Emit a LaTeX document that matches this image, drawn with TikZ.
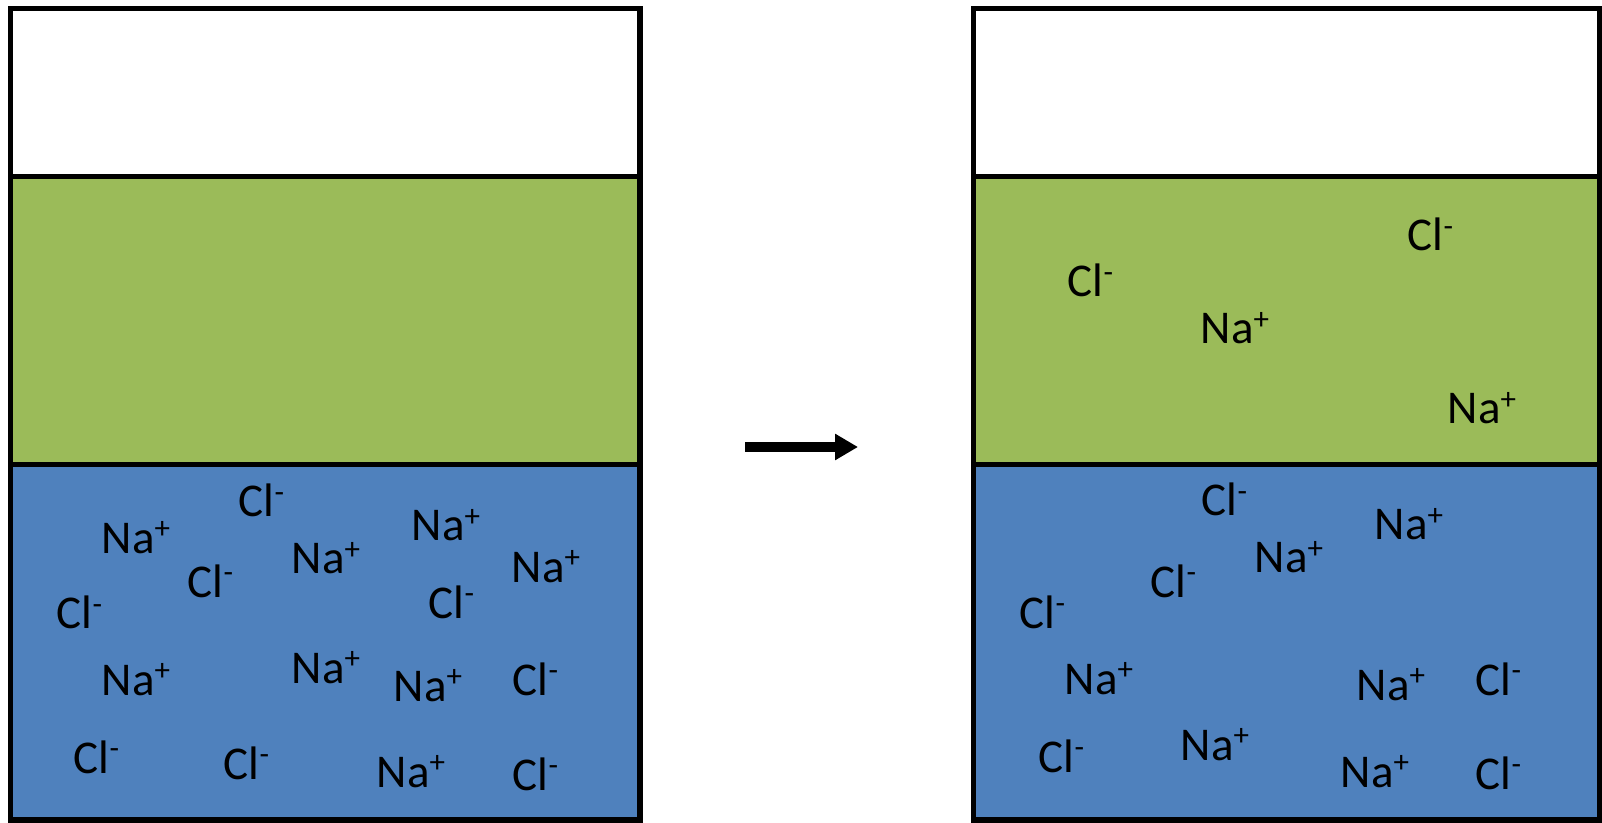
\documentclass[tikz,border=0pt]{standalone}
\usepackage{fontspec}
\setmainfont{Carlito}
\usetikzlibrary{arrows.meta}
\definecolor{organic}{HTML}{9BBB59}
\definecolor{aqueous}{HTML}{4F81BD}
\newcommand{\ionlbl}[2]{#1\raisebox{0.3em}{\fontsize{15.5pt}{15.5pt}\selectfont #2}}
\begin{document}
\begin{tikzpicture}[x=0.5pt, y=-0.5pt, line width=2.7pt,
    ion/.style={anchor=base west, inner sep=0pt, font=\fontsize{23.5pt}{28pt}\selectfont},
    na/.style={ion, xshift=-2pt},
    cl/.style={ion, xshift=-1pt}]
\useasboundingbox (0,0) rectangle (1602,823);
% left beaker
\filldraw[fill=white] (10.5,8.5) rectangle (640,176.5);
\filldraw[fill=organic] (10.5,176.5) rectangle (640,464.5);
\filldraw[fill=aqueous] (10.5,464.5) rectangle (640,820);
% right beaker
\filldraw[fill=white] (973.5,8.5) rectangle (1599.5,176.5);
\filldraw[fill=organic] (973.5,176.5) rectangle (1599.5,464.5);
\filldraw[fill=aqueous] (973.5,464.5) rectangle (1599.5,820);
% arrow
\coordinate (arrstart) at (745,447);
\coordinate (arrend) at (858,447);
\draw[line width=5pt, -{Triangle[length=11.5pt, width=12.5pt]}] (arrstart) -- (arrend);
% ions before
\node[na] (naL1) at (103,553) {\ionlbl{Na}{+}};
\node[na] (naL2) at (413,541) {\ionlbl{Na}{+}};
\node[na] (naL3) at (513,582) {\ionlbl{Na}{+}};
\node[na] (naL4) at (293,574) {\ionlbl{Na}{+}};
\node[na] (naL5) at (103,695) {\ionlbl{Na}{+}};
\node[na] (naL6) at (293,683) {\ionlbl{Na}{+}};
\node[na] (naL7) at (395,701) {\ionlbl{Na}{+}};
\node[na] (naL8) at (378,787) {\ionlbl{Na}{+}};
\node[cl] (clL1) at (238,517) {\ionlbl{Cl}{-}};
\node[cl] (clL2) at (187,597) {\ionlbl{Cl}{-}};
\node[cl] (clL3) at (56,629) {\ionlbl{Cl}{-}};
\node[cl] (clL4) at (428,618) {\ionlbl{Cl}{-}};
\node[cl] (clL5) at (512,695) {\ionlbl{Cl}{-}};
\node[cl] (clL6) at (73,773) {\ionlbl{Cl}{-}};
\node[cl] (clL7) at (223,779) {\ionlbl{Cl}{-}};
\node[cl] (clL8) at (512,790) {\ionlbl{Cl}{-}};
% ions after
\node[cl] (clR1) at (1067,297) {\ionlbl{Cl}{-}};
\node[cl] (clR2) at (1407,251) {\ionlbl{Cl}{-}};
\node[na] (naR1) at (1202,344) {\ionlbl{Na}{+}};
\node[na] (naR2) at (1449,424) {\ionlbl{Na}{+}};
\node[cl] (clR3) at (1201,516) {\ionlbl{Cl}{-}};
\node[cl] (clR4) at (1150,597) {\ionlbl{Cl}{-}};
\node[cl] (clR5) at (1019,628) {\ionlbl{Cl}{-}};
\node[cl] (clR6) at (1475,695) {\ionlbl{Cl}{-}};
\node[cl] (clR7) at (1038,772) {\ionlbl{Cl}{-}};
\node[cl] (clR8) at (1475,789) {\ionlbl{Cl}{-}};
\node[na] (naR3) at (1376,540) {\ionlbl{Na}{+}};
\node[na] (naR4) at (1256,573) {\ionlbl{Na}{+}};
\node[na] (naR5) at (1066,694) {\ionlbl{Na}{+}};
\node[na] (naR6) at (1358,700) {\ionlbl{Na}{+}};
\node[na] (naR7) at (1182,760) {\ionlbl{Na}{+}};
\node[na] (naR8) at (1342,787) {\ionlbl{Na}{+}};
\end{tikzpicture}
\end{document}
